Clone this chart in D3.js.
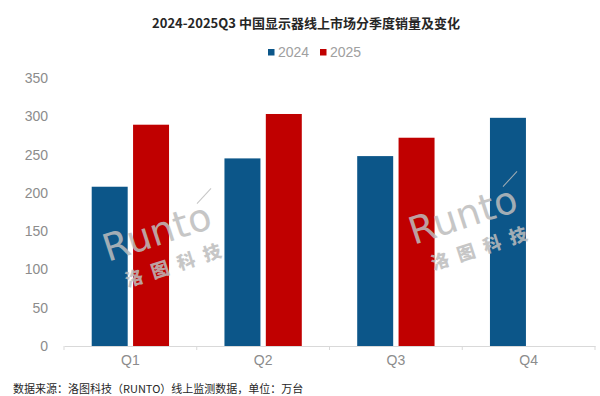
<!DOCTYPE html>
<html>
<head>
<meta charset="utf-8">
<script src="https://cdn.jsdelivr.net/npm/d3@7"></script>
<style>
body {margin:0; background:#fff;}
svg {display:block; font-family:"Liberation Sans", Arial, sans-serif;}
</style>
</head>
<body>
<svg id="chart" width="600" height="396"></svg>
<script>
var quarters = ["Q1", "Q2", "Q3", "Q4"];
var seriesNames = ["2024", "2025"];
var values2024 = [208, 245, 248, 298];
var values2025 = [289, 303, 272, null];
var yTicks = [0, 50, 100, 150, 200, 250, 300, 350];
var colors = {"2024": "#0c5689", "2025": "#c00000"};

var titleText = "2024-2025Q3 中国显示器线上市场分季度销量及变化";
var sourceText = "数据来源：洛图科技（RUNTO）线上监测数据，单位：万台";

var svg = d3.select("#chart");

var x0 = d3.scaleBand()
	.domain(quarters)
	.range([64, 595]);

var x1 = d3.scaleBand()
	.domain(seriesNames)
	.range([0, x0.bandwidth()])
	.paddingInner(0.13)
	.paddingOuter(0.67);

var y = d3.scaleLinear()
	.domain([0, 350])
	.range([346, 78]);

// title
svg.append("text")
	.attr("x", 306)
	.attr("y", 28)
	.attr("text-anchor", "middle")
	.attr("font-size", "13px")
	.attr("font-weight", "bold")
	.attr("fill", "#262626")
	.style("font-family", "'Noto Sans CJK SC', sans-serif")
	.text(titleText);

// legend
var legendX = [268, 320];
seriesNames.forEach(function(s, i){
	svg.append("rect")
		.attr("x", legendX[i])
		.attr("y", 49)
		.attr("width", 6.5)
		.attr("height", 6.5)
		.attr("fill", colors[s]);
	svg.append("text")
		.attr("x", legendX[i] + 10)
		.attr("y", 57)
		.attr("font-size", "14px")
		.attr("fill", "#a0a0a0")
		.text(s);
});

// y axis labels (no line)
var yAxis = d3.axisLeft(y)
	.tickValues(yTicks)
	.tickSize(0)
	.tickPadding(0);
var yg = svg.append("g")
	.attr("transform", "translate(48,0)")
	.call(yAxis);
yg.select(".domain").remove();
yg.selectAll("text")
	.attr("font-size", "14px")
	.attr("fill", "#8c8c8c")
	.style("font-family", "'Liberation Sans', Arial, sans-serif");

// bars
var rows = quarters.map(function(q, i){
	return {q: q, vals: [{s: "2024", v: values2024[i]}, {s: "2025", v: values2025[i]}]};
});

var groups = svg.selectAll("g.grp")
	.data(rows)
	.enter()
	.append("g")
		.attr("class", "grp")
		.attr("transform", function(d){ return "translate(" + x0(d.q) + ",0)"; });

groups.selectAll("rect")
	.data(function(d){ return d.vals.filter(function(e){ return e.v != null; }); })
	.enter()
	.append("rect")
		.attr("x", function(d){ return x1(d.s); })
		.attr("y", function(d){ return y(d.v); })
		.attr("width", x1.bandwidth())
		.attr("height", function(d){ return y(0) - y(d.v); })
		.attr("fill", function(d){ return colors[d.s]; });

// x axis
var xAxis = d3.axisBottom(x0)
	.tickSize(0)
	.tickPadding(9);
var xg = svg.append("g")
	.attr("transform", "translate(0," + y(0) + ")")
	.call(xAxis);
xg.select(".domain")
	.attr("stroke", "#d9d9d9")
	.attr("stroke-width", 1);
xg.selectAll("text")
	.attr("font-size", "14px")
	.attr("fill", "#8c8c8c")
	.style("font-family", "'Liberation Sans', Arial, sans-serif");

// category separator ticks
var edges = quarters.map(function(q){ return x0(q); }).concat([x0.range()[1]]);
svg.selectAll("line.sep")
	.data(edges)
	.enter()
	.append("line")
		.attr("class", "sep")
		.attr("x1", function(d){ return d; })
		.attr("x2", function(d){ return d; })
		.attr("y1", y(0))
		.attr("y2", y(0) + 4)
		.attr("stroke", "#d9d9d9")
		.attr("stroke-width", 1);

// watermarks
function drawWatermark(cx, cy){
	var wm = svg.append("g")
		.attr("transform", "translate(" + cx + "," + cy + ") rotate(-18)")
		.attr("opacity", 0.85);
	wm.append("text")
		.attr("x", -55)
		.attr("y", 0)
		.attr("font-size", "38px")
		.attr("fill", "#bdbdbd")
		.attr("textLength", 112)
		.style("font-family", "'DejaVu Sans', sans-serif")
		.text("Runto");
	wm.append("line")
		.attr("x1", 48).attr("y1", -28)
		.attr("x2", 66).attr("y2", -38)
		.attr("stroke", "#bdbdbd")
		.attr("stroke-width", 1);
	wm.append("text")
		.attr("x", -44)
		.attr("y", 30)
		.attr("font-size", "18px")
		.attr("font-weight", "900")
		.attr("fill", "#bdbdbd")
		.attr("textLength", 100)
		.style("font-family", "'Noto Sans CJK SC', sans-serif")
		.text("洛图科技");
}
drawWatermark(160, 245);
drawWatermark(466, 228);

// source
svg.append("text")
	.attr("x", 13)
	.attr("y", 393)
	.attr("font-size", "11px")
	.attr("fill", "#262626")
	.style("font-family", "'Noto Sans CJK SC', sans-serif")
	.text(sourceText);
</script>
</body>
</html>
